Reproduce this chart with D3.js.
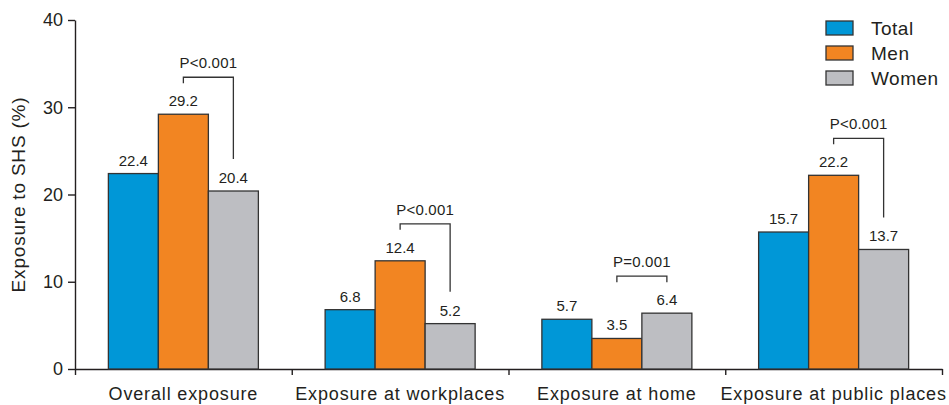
<!DOCTYPE html>
<html>
<head>
<meta charset="utf-8">
<script src="https://cdn.jsdelivr.net/npm/d3@7"></script>
<style>
  body { margin: 0; background: #fff; }
  svg { display: block; font-family: "Liberation Sans", Arial, sans-serif; }
  .axis path, .axis line { stroke: #231f20; stroke-width: 1.4; }
  .axis text { fill: #231f20; }
</style>
</head>
<body>
<div id="chart-area"><svg></svg></div>
<script>
const categories = ["Overall exposure", "Exposure at workplaces", "Exposure at home", "Exposure at public places"];
const series = ["Total", "Men", "Women"];
const total = [22.4, 6.8, 5.7, 15.7];
const men = [29.2, 12.4, 3.5, 22.2];
const women = [20.4, 5.2, 6.4, 13.7];
const pLabels = ["P<0.001", "P<0.001", "P=0.001", "P<0.001"];
const yTicks = [0, 10, 20, 30, 40];

const chartSize = { width: 949, height: 405 };
const margin = { left: 75, right: 7, top: 20, bottom: 36 };
const width = chartSize.width - (margin.left + margin.right);
const height = chartSize.height - (margin.top + margin.bottom);

const colours = { Total: "#0097d7", Men: "#f28522", Women: "#bdbec2" };
const valuesBySeries = { Total: total, Men: men, Women: women };

const rows = categories.map((c, i) => ({
  name: c,
  values: series.map(s => ({ key: s, value: valuesBySeries[s][i] })),
  p: pLabels[i]
}));

const svg = d3.select("#chart-area svg")
  .attr("width", chartSize.width)
  .attr("height", chartSize.height);

const g = svg.append("g")
  .attr("transform", `translate(${margin.left}, ${margin.top})`);

const xScale = d3.scaleBand().domain(categories).range([0, width]).padding(0);
const xInner = d3.scaleBand().domain(series).range([0, xScale.bandwidth()])
  .paddingInner(0).paddingOuter(0.6675);
const yScale = d3.scaleLinear().domain([0, 40]).range([height, 0]);

// y axis
const yAxis = d3.axisLeft(yScale).tickValues(yTicks).tickSize(7).tickSizeOuter(0).tickPadding(5);
g.append("g").attr("class", "axis y-axis").call(yAxis)
  .selectAll("text").style("font-size", "18px");

g.append("text")
  .attr("transform", "rotate(-90)")
  .attr("x", -height / 2)
  .attr("y", -50)
  .attr("text-anchor", "middle")
  .style("font-size", "19px")
  .style("letter-spacing", "0.8px")
  .attr("fill", "#231f20")
  .text("Exposure to SHS (%)");

// x axis: labels centred, ticks at group boundaries
const boundary = d3.scaleLinear().domain([0, categories.length]).range([0, width]);
g.append("g").attr("class", "axis x-ticks")
  .attr("transform", `translate(0, ${height})`)
  .call(d3.axisBottom(boundary).ticks(categories.length).tickSize(6).tickSizeOuter(0).tickFormat(""));

const xAxisLabels = g.append("g").attr("class", "axis x-axis")
  .attr("transform", `translate(0, ${height})`)
  .call(d3.axisBottom(xScale).tickSize(0).tickPadding(18));
xAxisLabels.select(".domain").remove();
xAxisLabels.selectAll("text")
  .style("font-size", "18px")
  .style("letter-spacing", "0.85px");

// bars
const groups = g.selectAll(".group").data(rows).enter().append("g")
  .attr("class", "group")
  .attr("transform", d => `translate(${xScale(d.name)}, 0)`);

groups.selectAll("rect").data(d => d.values).enter().append("rect")
  .attr("x", d => xInner(d.key))
  .attr("y", d => yScale(d.value))
  .attr("width", xInner.bandwidth())
  .attr("height", d => yScale(0) - yScale(d.value))
  .attr("fill", d => colours[d.key])
  .attr("stroke", "#333")
  .attr("stroke-width", 1.3);

groups.selectAll(".val").data(d => d.values).enter().append("text")
  .attr("class", "val")
  .attr("x", d => xInner(d.key) + xInner.bandwidth() / 2)
  .attr("y", d => yScale(d.value) - 8)
  .attr("text-anchor", "middle")
  .style("font-size", "15px")
  .attr("fill", "#231f20")
  .text(d => d.value.toFixed(1));

// significance brackets between Men and Women
groups.each(function(d) {
  const grp = d3.select(this);
  const m = d.values[1].value, w = d.values[2].value;
  const x1 = xInner("Men") + xInner.bandwidth() / 2;
  const x2 = xInner("Women") + xInner.bandwidth() / 2;
  const top = yScale(Math.max(m, w)) - 37;
  const leftEnd = top + 6;
  const rightEnd = Math.max(top + 6, yScale(w) - 32);
  grp.append("path")
    .attr("d", `M${x1},${leftEnd}V${top}H${x2}V${rightEnd}`)
    .attr("fill", "none")
    .attr("stroke", "#333")
    .attr("stroke-width", 1.3);
  grp.append("text")
    .attr("x", (x1 + x2) / 2)
    .attr("y", top - 9)
    .attr("text-anchor", "middle")
    .style("font-size", "15px")
    .style("letter-spacing", "0.2px")
    .attr("fill", "#231f20")
    .text(d.p);
});

// legend
const legend = svg.append("g").attr("transform", "translate(826, 21)");
const items = legend.selectAll("g").data(series).enter().append("g")
  .attr("transform", (d, i) => `translate(0, ${i * 25})`);
items.append("rect")
  .attr("width", 27).attr("height", 14)
  .attr("fill", d => colours[d])
  .attr("stroke", "#333").attr("stroke-width", 1.3);
items.append("text")
  .attr("x", 45).attr("y", 7).attr("dy", "0.35em")
  .style("font-size", "19px")
  .style("letter-spacing", "0.5px")
  .attr("fill", "#231f20")
  .text(d => d);
</script>
</body>
</html>
